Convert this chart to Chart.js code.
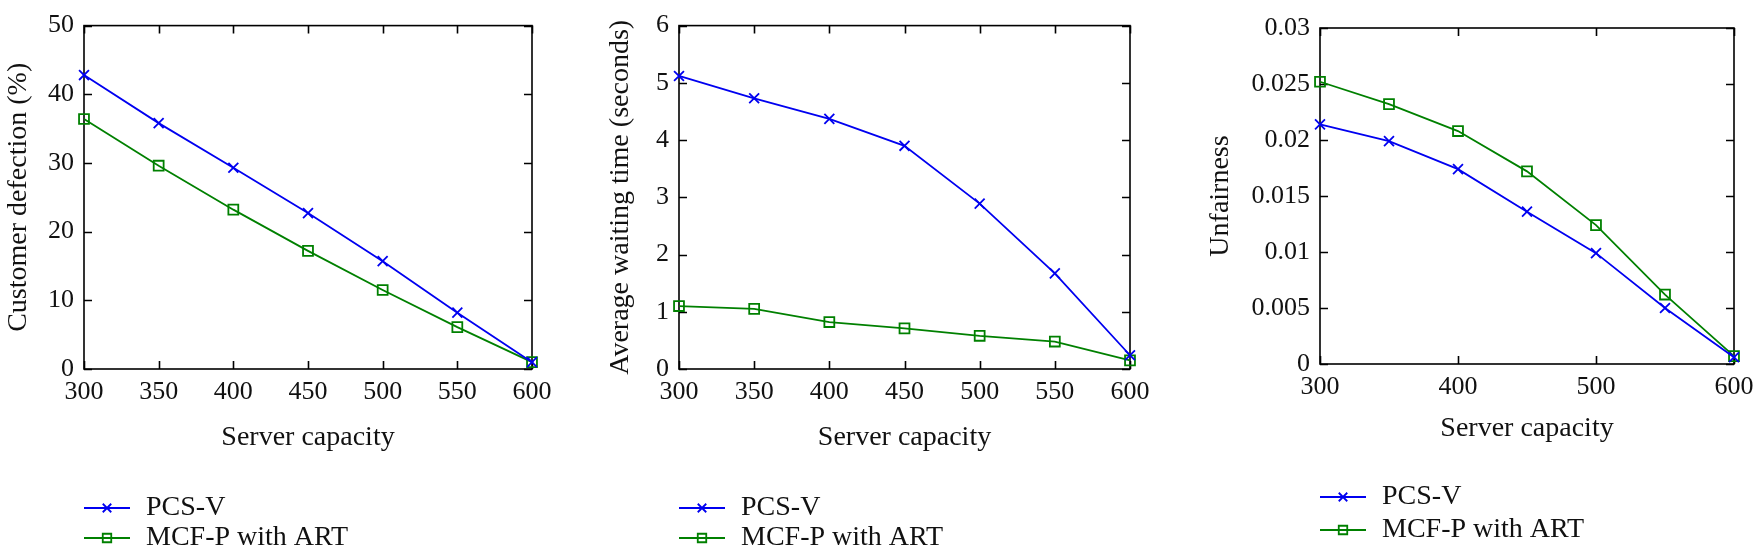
<!DOCTYPE html>
<html>
<head>
<meta charset="utf-8">
<title>Server capacity comparison</title>
<script src="https://cdn.jsdelivr.net/npm/chart.js@4.4.1/dist/chart.umd.min.js"></script>
<style>
    body { margin: 0; background: #fff; }
    .wrap { position: relative; width: 1763px; height: 558px; }
    canvas { position: absolute; top: 0; }
</style>
</head>
<body>
<div class="wrap">
    <canvas id="defectionChart" width="590" height="558" style="left:0"></canvas>
    <canvas id="waitingChart" width="590" height="558" style="left:590px"></canvas>
    <canvas id="unfairnessChart" width="583" height="558" style="left:1180px"></canvas>
</div>
<script>
// Values
const capacity = [300, 350, 400, 450, 500, 550, 600];
const seriesNames = ['PCS-V', 'MCF-P with ART'];

const defectionPcs = [42.8, 35.8, 29.3, 22.7, 15.7, 8.2, 1.0];
const defectionMcf = [36.4, 29.6, 23.2, 17.2, 11.5, 6.1, 1.0];

const waitingPcs = [5.12, 4.73, 4.37, 3.90, 2.89, 1.67, 0.24];
const waitingMcf = [1.10, 1.05, 0.82, 0.71, 0.58, 0.48, 0.15];

const unfairPcs = [0.0214, 0.0199, 0.0174, 0.0136, 0.0099, 0.0050, 0.0006];
const unfairMcf = [0.0252, 0.0232, 0.0208, 0.0172, 0.0124, 0.0062, 0.0007];

// Tick labels
const xTicksFine = [300, 350, 400, 450, 500, 550, 600];
const xTicksCoarse = [300, 400, 500, 600];
const yTicksDefection = [0, 10, 20, 30, 40, 50];
const yTicksWaiting = [0, 1, 2, 3, 4, 5, 6];
const yTicksUnfair = [0, 0.005, 0.01, 0.015, 0.02, 0.025, 0.03];

const BLUE = '#0000f0';
const GREEN = '#008000';
const TEXT = '#111';
const TICK_FONT = { family: 'Liberation Serif', size: 26 };
const TITLE_FONT = { family: 'Liberation Serif', size: 28 };

document.addEventListener('DOMContentLoaded', () => {
    makeChart('defectionChart', {
        pcs: defectionPcs, mcf: defectionMcf,
        xTicks: xTicksFine, yTicks: yTicksDefection,
        yTitle: 'Customer defection (%)',
        yWidth: 84, yTitlePad: 2, xHeight: 89,
        padding: { top: 21, right: 58, bottom: 100 },
        legend: { x: 84, y: 508, step: 30 }
    });
    makeChart('waitingChart', {
        pcs: waitingPcs, mcf: waitingMcf,
        xTicks: xTicksFine, yTicks: yTicksWaiting,
        yTitle: 'Average waiting time (seconds)',
        yWidth: 89, yTitlePad: 14, xHeight: 89,
        padding: { top: 16, right: 50, bottom: 100 },
        legend: { x: 89, y: 508, step: 30 }
    });
    makeChart('unfairnessChart', {
        pcs: unfairPcs, mcf: unfairMcf,
        xTicks: xTicksCoarse, yTicks: yTicksUnfair,
        yTitle: 'Unfairness',
        yWidth: 140, yTitlePad: 24, xHeight: 85,
        padding: { top: 28, right: 29, bottom: 109 },
        legend: { x: 140, y: 497, step: 33 }
    });
});

// 1. Box frame with inward ticks on all four sides
const framePlugin = {
    id: 'frame',
    beforeDatasetsDraw(chart) {
        const { ctx, chartArea: a, scales } = chart;
        const len = 8;
        ctx.save();
        ctx.strokeStyle = '#000';
        ctx.lineWidth = 1.6;
        ctx.strokeRect(a.left, a.top, a.right - a.left, a.bottom - a.top);
        ctx.beginPath();
        scales.x.ticks.forEach(t => {
            const px = Math.round(scales.x.getPixelForValue(t.value)) + 0.5;
            ctx.moveTo(px, a.bottom); ctx.lineTo(px, a.bottom - len);
            ctx.moveTo(px, a.top); ctx.lineTo(px, a.top + len);
        });
        scales.y.ticks.forEach(t => {
            const py = Math.round(scales.y.getPixelForValue(t.value)) + 0.5;
            ctx.moveTo(a.left, py); ctx.lineTo(a.left + len, py);
            ctx.moveTo(a.right, py); ctx.lineTo(a.right - len, py);
        });
        ctx.stroke();
        ctx.restore();
    }
};

// 2. Legend drawn as line + marker + label, stacked below the axes
const lineLegendPlugin = {
    id: 'lineLegend',
    afterDraw(chart, args, opts) {
        const { ctx } = chart;
        ctx.save();
        chart.data.datasets.forEach((ds, i) => {
            const y = opts.y + i * opts.step;
            ctx.strokeStyle = ds.borderColor;
            ctx.lineWidth = ds.borderWidth;
            ctx.beginPath();
            ctx.moveTo(opts.x, y);
            ctx.lineTo(opts.x + 46, y);
            ctx.stroke();
            ctx.fillStyle = 'rgba(0,0,0,0)';
            Chart.helpers.drawPoint(ctx, {
                pointStyle: ds.pointStyle, radius: 6, borderWidth: 1.6, rotation: 0
            }, opts.x + 23, y);
            ctx.fillStyle = TEXT;
            ctx.font = '28px "Liberation Serif"';
            ctx.textAlign = 'left';
            ctx.textBaseline = 'middle';
            ctx.fillText(ds.label, opts.x + 62, y);
        });
        ctx.restore();
    }
};

function makeChart(id, cfg) {
    const toPoints = vals => capacity.map((c, i) => ({ x: c, y: vals[i] }));
    const yMin = cfg.yTicks[0];
    const yMax = cfg.yTicks[cfg.yTicks.length - 1];

    new Chart(document.getElementById(id), {
        type: 'line',
        data: {
            datasets: [
                {
                    label: seriesNames[0],
                    data: toPoints(cfg.pcs),
                    borderColor: BLUE, borderWidth: 1.8,
                    pointStyle: 'crossRot', pointRadius: 7,
                    pointBorderColor: BLUE, pointBorderWidth: 1.8,
                    pointBackgroundColor: 'rgba(0,0,0,0)',
                    tension: 0, clip: false
                },
                {
                    label: seriesNames[1],
                    data: toPoints(cfg.mcf),
                    borderColor: GREEN, borderWidth: 1.8,
                    pointStyle: 'rect', pointRadius: 7,
                    pointBorderColor: GREEN, pointBorderWidth: 1.8,
                    pointBackgroundColor: 'rgba(0,0,0,0)',
                    tension: 0, clip: false
                }
            ]
        },
        options: {
            responsive: false,
            animation: false,
            devicePixelRatio: 1,
            layout: { padding: { left: 0, ...cfg.padding } },
            plugins: {
                legend: { display: false },
                tooltip: { enabled: false },
                lineLegend: cfg.legend
            },
            scales: {
                x: {
                    type: 'linear',
                    min: capacity[0],
                    max: capacity[capacity.length - 1],
                    afterBuildTicks: s => { s.ticks = cfg.xTicks.map(v => ({ value: v })); },
                    afterFit: s => { s.height = cfg.xHeight; },
                    grid: { display: false, drawTicks: false },
                    border: { display: false },
                    ticks: { padding: 8, color: TEXT, font: TICK_FONT, maxRotation: 0, autoSkip: false },
                    title: {
                        display: true, text: 'Server capacity', color: TEXT, font: TITLE_FONT,
                        padding: { top: 0, bottom: 4 }
                    }
                },
                y: {
                    min: yMin,
                    max: yMax,
                    afterBuildTicks: s => { s.ticks = cfg.yTicks.map(v => ({ value: v })); },
                    afterFit: s => { s.width = cfg.yWidth; },
                    grid: { display: false, drawTicks: false },
                    border: { display: false },
                    ticks: {
                        padding: 10, color: TEXT, font: TICK_FONT, autoSkip: false,
                        callback: v => String(parseFloat(Number(v).toFixed(4)))
                    },
                    title: {
                        display: true, text: cfg.yTitle, color: TEXT, font: TITLE_FONT,
                        padding: { top: cfg.yTitlePad, bottom: 0 }
                    }
                }
            }
        },
        plugins: [framePlugin, lineLegendPlugin]
    });
}
</script>
</body>
</html>
